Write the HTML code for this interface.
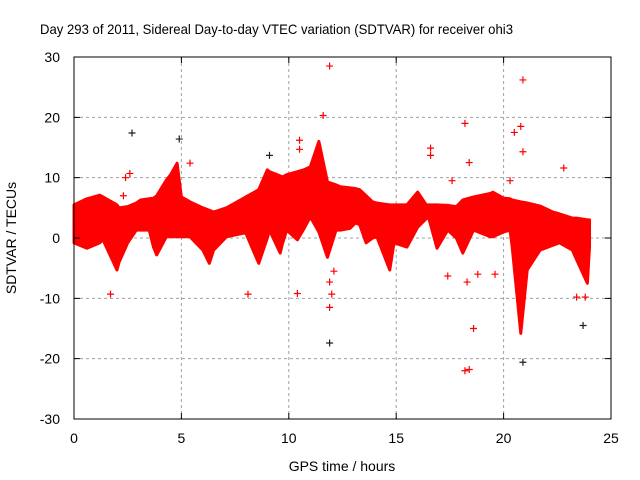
<!DOCTYPE html>
<html><head><meta charset="utf-8"><style>
body{margin:0;background:#fff;}
svg{display:block;font-family:"Liberation Sans",sans-serif;}
</style></head><body>
<svg id="chart" width="640" height="480" viewBox="0 0 640 480">
<rect width="640" height="480" fill="#fff"/>
<text x="40" y="34" font-size="14" textLength="473" lengthAdjust="spacingAndGlyphs" fill="#000">Day 293 of 2011, Sidereal Day-to-day VTEC variation (SDTVAR) for receiver ohi3</text>
<g id="grid"></g>
<g id="marks"></g>
<rect x="74" y="57" width="537" height="362" fill="none" stroke="#000" stroke-width="1"/>
<g id="axes"></g>
<text x="16" y="238" font-size="14" text-anchor="middle" transform="rotate(-90 16 238)">SDTVAR / TECUs</text>
<text x="342" y="471" font-size="14" text-anchor="middle">GPS time / hours</text>
</svg>
<script>
const xTicks=[0,5,10,15,20,25];
const yTicks=[-30,-20,-10,0,10,20,30];
const bandTimes=[0,0.6,1.2,1.35,2.0,2.1,2.5,2.9,3.1,3.5,3.7,3.85,4.3,4.5,4.8,5.0,5.4,6.0,6.3,6.5,7.1,7.9,8.0,8.6,9.0,9.1,9.6,9.7,9.9,10.4,10.7,11.0,11.4,11.8,12.2,12.4,12.85,13.1,13.3,13.6,13.9,14.1,14.7,14.9,15.5,16.0,16.4,16.5,16.9,17.4,17.8,18.1,18.6,19.4,19.5,20.0,20.3,20.4,20.8,21.1,21.7,22.3,22.6,23.2,23.4,23.9,24.0];
const bandHi=[5.5,6.5,7.1,6.8,5.5,5,5.2,5.8,6.3,6.5,6.6,7,9.6,10.5,12.4,6.8,6,5,4.6,4.3,5,6.6,6.8,8,11.3,11,10.3,10.1,10.5,11,11.3,11.8,16,9.3,8.8,8.5,8.3,8.2,8,7,6,5.8,5.5,5.5,5.5,7.6,5.5,5.5,5.5,5.4,5.2,6.3,6.8,7.4,7.6,6.6,6.5,6.3,6,5.8,5.3,4.3,4,3.3,3.3,3,3];
const bandLo=[-0.8,-1.7,-0.8,-0.3,-5.3,-4,-0.8,1.3,1.3,1.3,-1.5,-2.8,0.2,0.2,0.2,0.2,0.2,-2,-4.2,-2,0.2,0.8,0.8,-4.2,0,1.3,-2.5,-1,1.3,-0.3,1.5,3.5,1,-3.2,1.3,1.3,1.6,2.5,2.2,-0.8,0,0.2,-5.3,-0.8,-1.5,1.8,3.2,3.5,-1.7,1.3,0,-2.5,1.3,0.2,0.2,1,1.3,-1.5,-15.8,-5.3,-2,-1.2,-0.8,-2,-3.6,-7.5,-1.5];
const outT=[1.7,2.4,2.6,5.4,8.1,10.5,10.5,10.4,11.6,11.9,11.9,12.0,11.9,12.1,18.2,18.4,18.3,18.2,18.4,18.6,17.4,20.5,20.8,20.9,20.9,22.8,23.4,23.8,16.6,16.6,17.6,20.3,18.8,19.6,2.3,4.7];
const outV=[-9.3,10,10.7,12.4,-9.3,16.2,14.7,-9.2,20.3,28.5,-7.3,-9.3,-11.5,-5.5,19,12.5,-7.3,-22,-21.8,-15,-6.3,17.5,18.5,26.2,14.3,11.6,-9.8,-9.8,14.9,13.7,9.5,9.5,-6,-6,7,10.5];
const darkT=[2.7,4.9,9.1,11.9,20.9,23.7];
const darkV=[17.4,16.4,13.7,-17.4,-20.6,-14.5];

const X0=74,X1=611,Y0=419,Y1=57;
const xs=t=>X0+(t-0)/(25-0)*(X1-X0);
const ys=v=>Y0-(v+30)/60*(Y0-Y1);
const NS='http://www.w3.org/2000/svg';
function mk(tag,attrs,parent){const e=document.createElementNS(NS,tag);for(const k in attrs)e.setAttribute(k,attrs[k]);parent.appendChild(e);return e;}
const grid=document.getElementById('grid'),axes=document.getElementById('axes'),marks=document.getElementById('marks');
xTicks.forEach(t=>{
  const x=xs(t);
  if(t>0&&t<25){const g=mk('line',{x1:x,x2:x,y1:Y1,y2:Y0,stroke:'#a0a0a0','stroke-dasharray':'3,3'},grid);
  
  }
  const tk=mk('path',{d:`M${x} ${Y0}v-6M${x} ${Y1}v6`,stroke:'#000'},axes);
  
  
  const l=mk('text',{x:x,y:Y0+24,'font-size':14,'text-anchor':'middle'},axes);l.textContent=t;
  
  
});
yTicks.forEach(v=>{
  const y=ys(v);
  if(v>-30&&v<30){const g=mk('line',{x1:X0,x2:X1,y1:y,y2:y,stroke:'#a0a0a0','stroke-dasharray':'3,3'},grid);
  
  }
  const tk=mk('path',{d:`M${X0} ${y}h6M${X1} ${y}h-6`,stroke:'#000'},axes);
  
  
  const l=mk('text',{x:X0-14,y:y+5,'font-size':14,'text-anchor':'end'},axes);l.textContent=v;
  
  
});
let pts=bandTimes.map((t,i)=>xs(t)+','+ys(bandHi[i]));
for(let i=bandTimes.length-1;i>=0;i--)pts.push(xs(bandTimes[i])+','+ys(bandLo[i]));
const band=mk('polygon',{points:pts.join(' '),fill:'#ff0000',stroke:'#ff0000','stroke-width':3,'stroke-linejoin':'round'},marks);


function cross(t,v,c,name){
  const p=mk('path',{d:`M${xs(t)-3.5} ${ys(v)}h7M${xs(t)} ${ys(v)-3.5}v7`,stroke:c,'stroke-width':1.2},marks);
  
  
}
outT.forEach((t,i)=>cross(t,outV[i],'#ff0000','outlier-point'));
darkT.forEach((t,i)=>cross(t,darkV[i],'#202020','dark-outlier-point'));
</script>
</body></html>
